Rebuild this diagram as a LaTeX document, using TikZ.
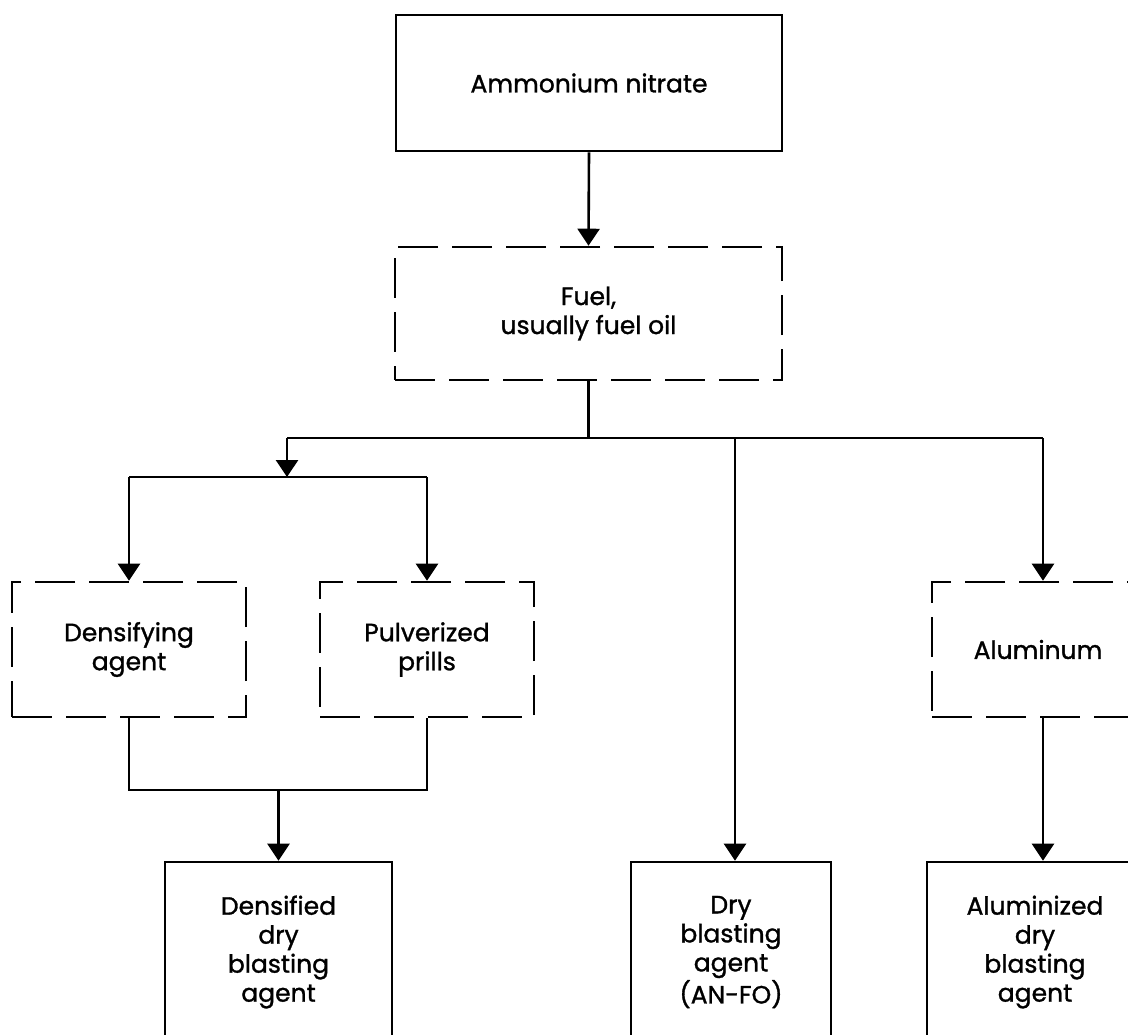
\documentclass[tikz,border=0pt]{standalone}
\usepackage{fontspec}
\setmainfont{Poppins}[FakeBold=1.2]
\usetikzlibrary{arrows.meta}

\begin{document}
\begin{tikzpicture}[x=0.5pt,y=-0.5pt,
    box/.style={draw, line width=1.3pt, align=center, inner sep=0pt,
        font=\fontsize{12.5}{14.5}\selectfont},
    dashbox/.style={box, dash pattern=on 20pt off 7pt},
    line/.style={line width=1.3pt},
    flow/.style={line width=1.3pt, -{Triangle[width=11pt,length=8.5pt]}}]
    \useasboundingbox (0,0) rectangle (1128,1034);
    \clip (0,0) rectangle (1128,1034);

    % boxes
    \node[box, minimum width=193pt, minimum height=68pt] (an) at (589,83) {Ammonium nitrate};
    \node[dashbox, minimum width=193.5pt, minimum height=66.5pt] (fuel) at (588.5,313.5) {Fuel,\\usually fuel oil};

    \node[dashbox, minimum width=117pt, minimum height=67.5pt] (dens) at (129,649.5) {Densifying\\agent};
    \node[dashbox, minimum width=107pt, minimum height=67.5pt] (pulv) at (427,649.5) {Pulverized\\prills};
    \node[dashbox, minimum width=106pt, minimum height=67.5pt] (alum) at (1038,649.5) {Aluminum};

    \node[box, minimum width=113.5pt, minimum height=90pt] (densd) at (278.5,952) {Densified\\dry\\blasting\\agent};
    \node[box, minimum width=100pt, minimum height=90pt] (dry) at (731,952) {Dry\\blasting\\agent\\(AN-FO)};
    \node[box, minimum width=108pt, minimum height=90pt] (almd) at (1035,952) {Aluminized\\dry\\blasting\\agent};

    % junctions
    \coordinate (split) at (287,438);
    \coordinate (jdry) at (735,438);
    \coordinate (jal) at (1043,438);
    \coordinate (split2) at (287,477);
    \coordinate (merge) at (278.5,790);

    % connectors
    \draw[flow] (an.south) -- (fuel.north);
    \draw[line] (fuel.south) -- (fuel.south |- split);
    \draw[line] (split) -- (jal);
    \draw[flow] (split) -- (split2);
    \draw[line] (dens.north |- split2) -- (pulv.north |- split2);
    \draw[flow] (dens.north |- split2) -- (dens.north);
    \draw[flow] (pulv.north |- split2) -- (pulv.north);
    \draw[flow] (jdry) -- (jdry |- dry.north);
    \draw[flow] (jal) -- (jal |- alum.north);
    \draw[line] (dens.south) |- (merge) -| (pulv.south);
    \draw[flow] (merge) -- (densd.north);
    \draw[flow] (jal |- alum.south) -- (jal |- almd.north);
\end{tikzpicture}
\end{document}
